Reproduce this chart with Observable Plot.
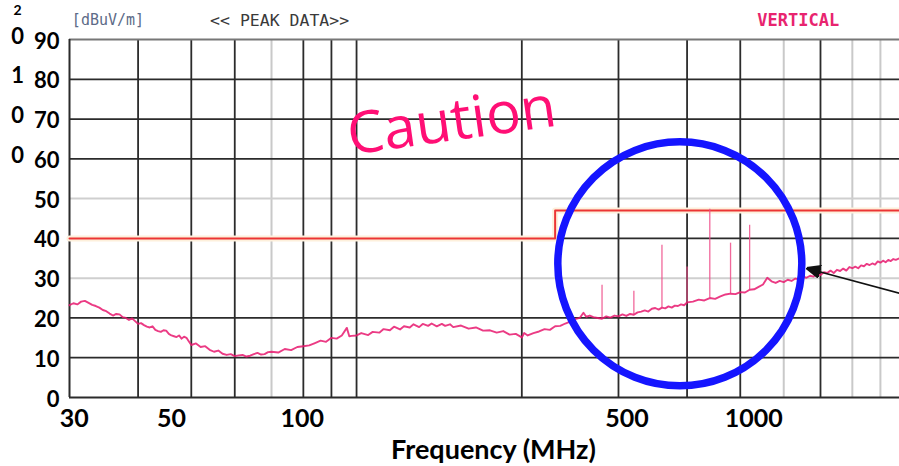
<!DOCTYPE html>
<html><head><meta charset="utf-8">
<script src="https://cdn.jsdelivr.net/npm/d3@7"></script>
<script src="https://cdn.jsdelivr.net/npm/@observablehq/plot@0.6"></script>
<style>body{margin:0;background:#fff;} #chart svg{display:block}</style>
</head><body><div id="chart"></div>
<script>
// Measured level (peak trace), MHz and dBuV/m
const freq = [30,30.5,31,31.5,32,32.5,33,33.5,34,34.5,35,35.5,36,36.5,37,37.5,38,38.5,39,39.5,40,40.5,41,41.5,42,42.5,43,43.5,44,44.5,45,45.5,46,46.5,47,47.5,48,48.5,49,49.5,50,51,52,53,54,55,56,57,58,59,60,61,62,63,64,65,66,67,68,69,70,72,74,76,78,80,82,84,86,88,90,92,94,96,97,98,
  100,102,105,107,110,112,115,117,120,122,125,127,130,132,135,137,140,143,145,148,150,155,160,165,170,175,180,185,190,195,200,202,205,210,215,220,225,230,235,240,245,250,255,259,262,266,270,275,280,285,290,295,300,
  305,310,315,320,325,330,335,340,345,350,355,360,365,370,375,380,385,390,395,400,410,420,430,440,450,460,470,480,490,500,510,520,530,540,550,560,570,580,590,600,610,620,630,640,650,660,670,680,690,700,710,720,730,740,750,760,770,780,790,800,810,820,830,840,850,860,870,880,890,900,910,920,930,940,950,960,975];
const level = [23.2,23.7,23.4,24.1,24.3,23.8,23.3,23.0,22.6,22.0,21.7,21.1,20.6,21.0,20.9,20.2,20.0,19.5,19.9,19.2,18.5,18.7,18.2,17.8,17.6,17.9,17.0,16.7,16.5,16.9,16.8,16.0,15.6,15.4,15.2,15.6,14.8,15.3,15.0,14.1,13.2,13.6,12.7,12.9,12.0,11.5,11.8,11.0,10.7,10.9,10.4,10.6,10.7,10.3,10.5,10.9,11.2,10.8,10.9,11.4,11.5,11.3,12.2,11.9,12.7,12.9,13.1,13.7,14.3,14.0,15.0,14.8,15.6,17.5,15.4,15.5,
  15.6,16.2,15.7,16.5,16.3,17.2,16.9,17.8,17.1,17.9,17.6,18.4,17.7,18.5,18.0,18.6,17.9,18.5,18.0,18.4,17.7,18.1,17.3,17.6,16.8,16.9,16.3,16.7,15.8,16.0,15.1,16.2,15.6,16.2,16.6,17.2,17.0,17.9,18.0,18.6,19.1,19.7,20.0,21.3,20.3,20.6,20.2,20.0,19.8,20.4,20.1,20.6,20.4,
  20.9,20.5,21.0,20.8,21.4,21.6,21.9,21.6,22.3,22.5,22.1,22.6,22.4,22.9,22.6,23.1,23.0,23.4,23.2,23.9,24.1,24.6,24.4,25.0,24.8,25.4,25.9,26.1,26.0,26.5,26.4,27.1,27.2,27.8,28.4,30.1,29.2,28.8,29.3,29.0,29.6,29.3,29.9,29.7,30.4,30.1,30.6,30.4,31.0,30.8,31.5,31.3,31.9,31.3,32.1,31.8,32.4,31.9,32.8,32.5,32.9,32.5,33.2,33.0,33.6,33.3,33.7,33.4,34.2,33.9,34.4,34.0,34.6,34.3,34.8,34.6,35.0];

// Narrow-band spikes (harmonics)
const spikeFreq = [280,320,360,400,440,480,520];
const spikeBase = [19.8,20.8,22.6,23.9,25.0,26.1,27.1];
const spikeTop  = [28.2,26.7,38.3,32.8,47.3,38.8,43.3];

// Limit line
const limitFreq  = [30,230,230,975];
const limitLevel = [40,40,47,47];

// Grid
const gridXDark  = [40,50,60,80,90,100,200,300,400,500,700];
const gridXLight = [70,600,800,900];
const gridYDark  = [10,20,40,60,70,80];
const gridYLight = [30,50];

// Tick labels
const yTicks = [0,10,20,30,40,50,60,70,80,90];
const xTickLabels = ["30","50","100","500","1000"];
const xTickPos = [30.6,46.0,79.6,311,529];
const sideChars = ["0","1","0","0"];
const sideCharLevel = [90,80,70,60];
const topChar = ["2"];
const topCharLevel = 97.4;

// Header texts
const headerTexts = ["[dBuV/m]","<< PEAK DATA>>","VERTICAL"];
const headerFreq = [30.3,54.1,537];
const headerColor = ["#5d6b88","#3a3a3a","#e8246f"];
const headerSize = [15,16.5,17];

// Annotations
const cautionText = ["Caution"];
const cautionPos = [149, 69.3];
const circlePos = [388, 33.6];
const arrowFrom = [975, 26.2];
const arrowTo = [660, 32.5];

const trace = freq.map((f,i)=>({f, v: level[i]}));
const spikes = spikeFreq.map((f,i)=>({f, b: spikeBase[i], t: spikeTop[i]}));
const limit = limitFreq.map((f,i)=>({f, v: limitLevel[i]}));

const FONT = "Lato, 'Open Sans', sans-serif";
const MONO = "'DejaVu Sans Mono', monospace";

function filledArrow(color, context) {
  const ns = "http://www.w3.org/2000/svg";
  const m = document.createElementNS(ns, "marker");
  m.setAttribute("viewBox", "-10 -5 10 10");
  m.setAttribute("markerUnits", "userSpaceOnUse");
  m.setAttribute("markerWidth", "14");
  m.setAttribute("markerHeight", "14");
  m.setAttribute("refX", "0");
  m.setAttribute("refY", "0");
  m.setAttribute("orient", "auto");
  const p = document.createElementNS(ns, "path");
  p.setAttribute("d", "M0,0L-10,-4.3L-10,4.3Z");
  p.setAttribute("fill", color);
  m.appendChild(p);
  return m;
}

function headerMark(i, bold) {
  return Plot.text([headerTexts[i]], {x: headerFreq[i], y: 90, text: d=>d, textAnchor: "start", dy: -19,
    fontSize: headerSize[i], fill: headerColor[i], fontWeight: bold ? "bold" : "normal", fontFamily: MONO});
}

function build(customArrow) {
  const arrowMark = customArrow
    ? Plot.link([0], {x1: ()=>arrowFrom[0], y1: ()=>arrowFrom[1], x2: ()=>arrowTo[0], y2: ()=>arrowTo[1], stroke: "#111", strokeWidth: 1.6, markerEnd: filledArrow})
    : Plot.arrow([0], {x1: ()=>arrowFrom[0], y1: ()=>arrowFrom[1], x2: ()=>arrowTo[0], y2: ()=>arrowTo[1], stroke: "#111", strokeWidth: 1.6, headLength: 14});
  return Plot.plot({
    width: 899, height: 466,
    marginLeft: 69, marginRight: 0, marginTop: 39, marginBottom: 69,
    x: {type: "log", domain: [30, 975], axis: null},
    y: {domain: [0, 90], axis: null},
    style: {background: "#fff", fontFamily: FONT},
    marks: [
      Plot.ruleX(gridXLight, {stroke: "#c9c9c9", strokeWidth: 2}),
      Plot.ruleY(gridYLight, {stroke: "#cfcfcf", strokeWidth: 2}),
      Plot.ruleX(gridXDark, {stroke: "#2b2b2b", strokeWidth: 1.8}),
      Plot.ruleY(gridYDark, {stroke: "#2b2b2b", strokeWidth: 1.8}),
      Plot.ruleY([90], {stroke: "#777", strokeWidth: 1.8}),
      Plot.ruleY([0], {stroke: "#2b2b2b", strokeWidth: 2}),
      Plot.ruleX([30], {stroke: "#2b2b2b", strokeWidth: 2}),
      Plot.line(limit, {x: "f", y: "v", stroke: "#fdf0dc", strokeWidth: 6}),
      Plot.line(limit, {x: "f", y: "v", stroke: "#ec3434", strokeWidth: 2}),
      Plot.ruleX(spikes, {x: "f", y1: "b", y2: "t", stroke: "#ee4d8a", strokeWidth: 1.3, strokeOpacity: 0.85}),
      Plot.line(trace, {x: "f", y: "v", stroke: "#e8196e", strokeWidth: 1.9, strokeOpacity: 0.85}),
      Plot.text(cautionText, {x: ()=>cautionPos[0], y: ()=>cautionPos[1], text: d=>d, rotate: -8, fontSize: 58, fill: "#ff0f75", fontFamily: "'Open Sans', sans-serif"}),
      Plot.dot([0], {x: ()=>circlePos[0], y: ()=>circlePos[1], r: 122, stroke: "#1515ff", strokeWidth: 7.5, fill: "none"}),
      arrowMark,
      Plot.text(yTicks, {x: 30, y: d=>d, text: d=>String(d), textAnchor: "end", dx: -10, dy: 2, fontSize: 22, fontWeight: "bold", fill: "#000", fontFamily: FONT}),
      Plot.text(sideChars, {x: 30, y: (d,i)=>sideCharLevel[i], text: d=>d, dx: -52, dy: -3, fontSize: 22, fontWeight: "bold", fill: "#000", fontFamily: FONT}),
      Plot.text(topChar, {x: 30, y: topCharLevel, text: d=>d, dx: -52, fontSize: 14, fontWeight: "bold", fill: "#000", fontFamily: FONT}),
      Plot.text(xTickLabels, {x: (d,i)=>xTickPos[i], y: 0, text: d=>d, dy: 21, fontSize: 25, fontWeight: "bold", fill: "#000", fontFamily: FONT}),
      Plot.text(["Frequency (MHz)"], {x: 177.6, y: 0, text: d=>d, dy: 53, fontSize: 27, fontWeight: "bold", fill: "#000", fontFamily: FONT}),
      headerMark(0, false),
      headerMark(1, false),
      headerMark(2, true)
    ]
  });
}

let chart;
try { chart = build(true); } catch (e) { chart = build(false); }
document.getElementById("chart").appendChild(chart);
</script>
</body></html>
